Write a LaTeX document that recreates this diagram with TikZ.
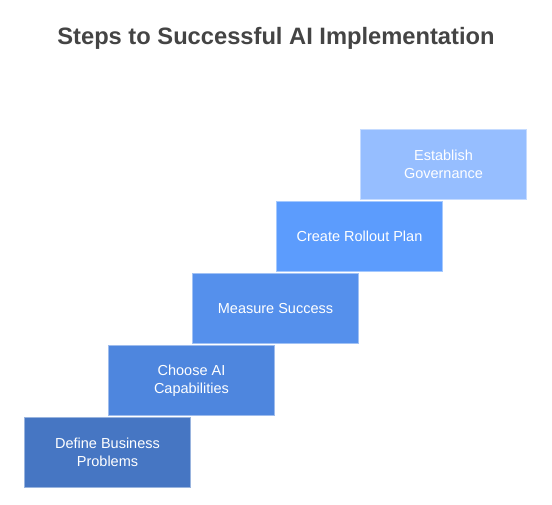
\documentclass[tikz,border=0pt]{standalone}
\usepackage{fontspec}
\setmainfont{Liberation Sans}
\definecolor{stepA}{HTML}{4676C3}
\definecolor{stepB}{HTML}{4E86DE}
\definecolor{stepC}{HTML}{5590EC}
\definecolor{stepD}{HTML}{5C9CFD}
\definecolor{stepE}{HTML}{96BEFF}
\definecolor{titlegray}{HTML}{444444}
\tikzset{
  stepbox/.style = {rectangle, minimum width=166pt, minimum height=70pt,
    inner sep=0pt, line width=0.8pt, text=white, align=center,
    font=\fontsize{14.5}{18}\selectfont}
}

\begin{document}
\begin{tikzpicture}[x=1pt, y=1pt]
\useasboundingbox (0,0) rectangle (552,505);
\node[font=\fontsize{23.7}{28}\selectfont\bfseries, text=titlegray] (title)
  at (276,467) {Steps to Successful AI Implementation};
\foreach \i/\name/\col in {%
	0/Define Business\\Problems/stepA,%
	1/Choose AI\\Capabilities/stepB,%
	2/Measure Success/stepC,%
	3/Create Rollout Plan/stepD,%
	4/Establish\\Governance/stepE%
} {
\node[stepbox, fill=\col, draw=\col!55!white] (step\i)
  at (107.5+84*\i, 52.5+72*\i) {\name};   % staircase, one step per box
};
\end{tikzpicture}
\end{document}
